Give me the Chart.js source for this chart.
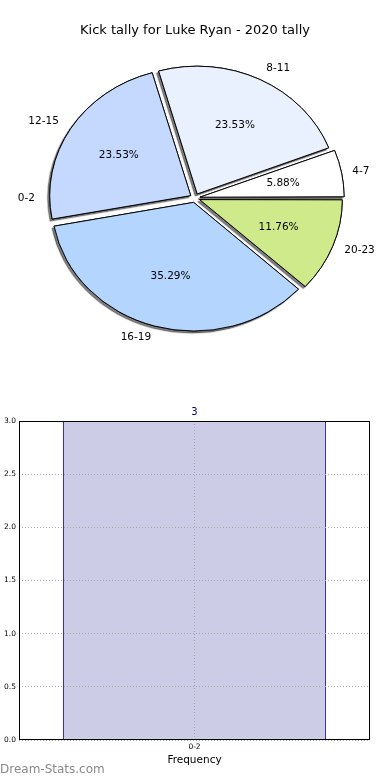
<!DOCTYPE html>
<html>
<head>
<meta charset="utf-8">
<script src="https://cdn.jsdelivr.net/npm/chart.js@4.4.1/dist/chart.umd.min.js"></script>
<style>
  html, body { margin: 0; padding: 0; background: #fff; }
  body { width: 390px; height: 780px; position: relative; overflow: hidden; font-family: "DejaVu Sans", sans-serif; }
  canvas { position: absolute; left: 0; }
  #under, #pie { top: 0; }
  #bar { top: 400px; }
  #mark { position: absolute; left: 0; top: 762px; font-size: 12px; color: #8a8a8a; }
</style>
</head>
<body>
<canvas id="under" width="390" height="400"></canvas>
<canvas id="pie" width="390" height="400"></canvas>
<canvas id="bar" width="390" height="380"></canvas>
<div id="mark">Dream-Stats.com</div>
<script>
// pie slices, listed clockwise from 3 o'clock
const pieLabels = ['20-23', '16-19', '12-15', '8-11', '4-7']
const pieCounts = [2, 6, 4, 4, 1]
// the 0-2 range gets its own pie (it is the only one in the histogram)
const barLabels = ['0-2']
const barCounts = [3]
const yTicks = [0, 0.5, 1, 1.5, 2, 2.5, 3]

const pieColors = ['#cfea8b', '#b4d5fe', '#c5d8fe', '#eaf1fe', '#ffffff']
const SQUASH = 0.906   // pie is drawn as an ellipse
const FONT = 'DejaVu Sans'

// squash the pie vertically + shadow pass underneath
const squash = {
    id: 'squash',
    beforeDatasetsDraw(chart, args, opts) {
        let ctx = chart.ctx, a = chart.chartArea
        let cx = (a.left + a.right) / 2, cy = (a.top + a.bottom) / 2
        ctx.save()
        ctx.translate(cx, cy)
        ctx.scale(1, SQUASH)
        ctx.translate(-cx, -cy)
        if (opts.shadow) {
            ctx.save()
            ctx.shadowColor = 'rgba(0,0,0,0.5)'
            ctx.shadowOffsetX = -2
            ctx.shadowOffsetY = 2
            ctx.shadowBlur = 1
            chart.getDatasetMeta(0).data.forEach(arc => arc.draw(ctx))
            ctx.restore()
        }
    },
    afterDatasetsDraw(chart) {
        chart.ctx.restore()
    }
}

// labels outside + percentages inside, like matplotlib
const pieText = {
    id: 'pieText',
    afterDraw(chart) {
        let ctx = chart.ctx
        let data = chart.data.datasets[0].data
        let total = data.reduce((s, v) => s + v, 0)
        let meta = chart.getDatasetMeta(0)
        ctx.save()
        ctx.fillStyle = '#000'
        ctx.font = '10.5px "' + FONT + '"'
        ctx.textBaseline = 'middle'
        meta.data.forEach((arc, i) => {
            let mid = (arc.startAngle + arc.endAngle) / 2
            let d = (arc.options.offset || 0) / 4
            let r = arc.outerRadius
            let c = Math.cos(mid), s = Math.sin(mid)
            if (Math.abs(c) < 1e-9) c = 0
            ctx.textAlign = c >= 0 ? 'left' : 'right'
            ctx.fillText(chart.data.labels[i], arc.x + (d + 1.1 * r) * c, arc.y + (d + 1.1 * r) * s * SQUASH)
            ctx.textAlign = 'center'
            let pct = (data[i] / total * 100).toFixed(2) + '%'
            ctx.fillText(pct, arc.x + (d + 0.6 * r) * c, arc.y + (d + 0.6 * r) * s * SQUASH)
        })
        ctx.restore()
    }
}

function pieOptions(withTitle, shadow) {
    return {
        responsive: false,
        animation: false,
        events: [],
        rotation: 90,
        radius: 141,
        layout: { padding: { top: withTitle ? 0 : 50, bottom: 54 } },
        plugins: {
            legend: { display: false },
            tooltip: { enabled: false },
            squash: { shadow: shadow },
            title: {
                display: withTitle,
                text: 'Kick tally for Luke Ryan - 2020 tally',
                color: '#000',
                font: { family: FONT, size: 13, weight: 'normal', lineHeight: 1.2 },
                padding: { top: 23, bottom: 11.4 }
            }
        }
    }
}

new Chart(document.getElementById('under'), {
    type: 'pie',
    data: {
        labels: barLabels,
        datasets: [{ data: barCounts, backgroundColor: '#ffffff', borderWidth: 0, offset: 20 }]
    },
    options: pieOptions(false, false),
    plugins: [squash, pieText]
})

new Chart(document.getElementById('pie'), {
    type: 'pie',
    data: {
        labels: pieLabels,
        datasets: [{
            data: pieCounts,
            backgroundColor: pieColors,
            borderColor: '#000',
            borderWidth: 1,
            offset: 20
        }]
    },
    options: pieOptions(true, true),
    plugins: [squash, pieText]
})

// ---- histogram ----
const barValue = {
    id: 'barValue',
    afterDatasetsDraw(chart) {
        let ctx = chart.ctx
        let ds = chart.data.datasets[0]
        ctx.save()
        ctx.fillStyle = '#000080'
        ctx.font = '10px "' + FONT + '"'
        ctx.textAlign = 'center'
        ctx.textBaseline = 'middle'
        chart.getDatasetMeta(0).data.forEach((bar, i) => {
            ctx.fillText(String(ds.data[i]), bar.x, bar.y - 9)
        })
        ctx.restore()
    }
}
const frame = {
    id: 'frame',
    afterDraw(chart) {
        let ctx = chart.ctx, a = chart.chartArea
        ctx.save()
        ctx.setLineDash([])
        ctx.strokeStyle = '#000'
        ctx.lineWidth = 1
        ctx.strokeRect(Math.round(a.left) + 0.5, Math.round(a.top) + 0.5, Math.round(a.right - a.left) - 1, Math.round(a.bottom - a.top) - 1)
        ctx.restore()
    }
}

new Chart(document.getElementById('bar'), {
    type: 'bar',
    data: {
        labels: barLabels,
        datasets: [{
            data: barCounts,
            backgroundColor: '#ccccE6',
            borderColor: '#000080',
            borderWidth: 1,
            barPercentage: 0.75,
            categoryPercentage: 1
        }]
    },
    options: {
        responsive: false,
        animation: false,
        events: [],
        layout: { padding: { top: 21, right: 20, left: 0, bottom: 0 } },
        plugins: { legend: { display: false }, tooltip: { enabled: false } },
        scales: {
            x: {
                grid: { z: 1, offset: false, color: '#aaaaaa', drawTicks: false },
                border: { display: false, dash: [1, 2] },
                ticks: { color: '#000', padding: 3, font: { family: FONT, size: 7.5 } },
                title: { display: true, text: 'Frequency', color: '#000', font: { family: FONT, size: 10.5 }, padding: { top: 0, bottom: 13 } },
                afterFit(scale) { scale.height = 40 }
            },
            y: {
                min: yTicks[0],
                max: yTicks[yTicks.length - 1],
                afterBuildTicks(scale) { scale.ticks = yTicks.map(v => ({ value: v })) },
                grid: { z: 1, color: '#aaaaaa', drawTicks: false },
                border: { display: false, dash: [1, 2] },
                ticks: { color: '#000', padding: 3, font: { family: FONT, size: 7.5 }, callback: v => v.toFixed(1) },
                afterFit(scale) { scale.width = 19 }
            }
        }
    },
    plugins: [barValue, frame]
})
</script>
</body>
</html>
